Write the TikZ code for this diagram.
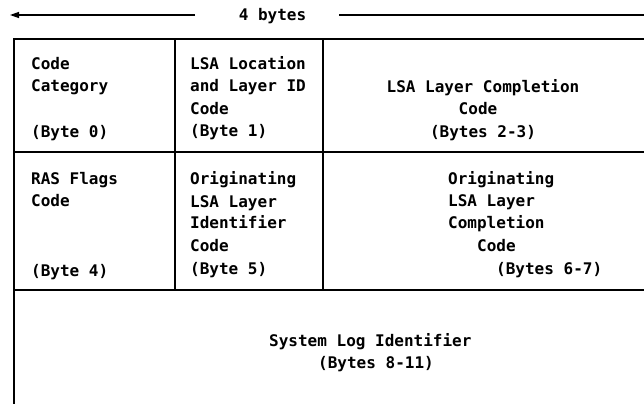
\documentclass[tikz,border=0pt]{standalone}
\usepackage{fontspec}
\newfontfamily\tfont{DejaVu Sans Mono}
\usetikzlibrary{arrows.meta}
\begin{document}
\begin{tikzpicture}[x=1pt,y=-1pt,
  ln/.style={line width=1.3pt, line cap=butt},
  txt/.style={anchor=base west, inner sep=0pt, font={\tfont\bfseries\fontsize{16}{19}\selectfont}},
  ctxt/.style={txt, anchor=base}]
\useasboundingbox (0,0) rectangle (644,404);
% frame and grid
\coordinate (tl) at (14,39);
\coordinate (tr) at (644,39);
\coordinate (bl) at (14,404);
\coordinate (r1l) at (14,152);
\coordinate (r1r) at (644,152);
\coordinate (r2l) at (14,290);
\coordinate (r2r) at (644,290);
\coordinate (c1t) at (175,39);
\coordinate (c1b) at (175,290);
\coordinate (c2t) at (323,39);
\coordinate (c2b) at (323,290);
\draw[ln] (tr) -- (tl) -- (bl);
\draw[ln] (r1l) -- (r1r);
\draw[ln] (r2l) -- (r2r);
\draw[ln] (c1t) -- (c1b);
\draw[ln] (c2t) -- (c2b);
% width arrow
\node[ctxt] (nb) at (272.5,21) {4 bytes};
\coordinate (al) at (10,15);
\coordinate (al2) at (195,15);
\coordinate (ar) at (644,15);
\coordinate (ar2) at (339,15);
\draw[ln, -{Triangle[length=9pt,width=6pt]}] (al2) -- (al);
\draw[ln] (ar2) -- (ar);
% row 1
\node[txt] (a1) at (31,69) {Code};
\node[txt] (a2) at (31,91) {Category};
\node[txt] (a3) at (31,137) {(Byte 0)};
\node[txt] (b1) at (190,69) {LSA Location};
\node[txt] (b2) at (190,91) {and Layer ID};
\node[txt] (b3) at (190,114) {Code};
\node[txt] (b4) at (190,136) {(Byte 1)};
\node[ctxt] (c1) at (483,92) {LSA Layer Completion};
\node[ctxt] (c2) at (478,114) {Code};
\node[ctxt] (c3) at (483,137) {(Bytes 2-3)};
% row 2
\node[txt] (d1) at (31,184) {RAS Flags};
\node[txt] (d2) at (31,206) {Code};
\node[txt] (d3) at (31,276) {(Byte 4)};
\node[txt] (e1) at (190,184) {Originating};
\node[txt] (e2) at (190,207) {LSA Layer};
\node[txt] (e3) at (190,228) {Identifier};
\node[txt] (e4) at (190,251) {Code};
\node[txt] (e5) at (190,274) {(Byte 5)};
\node[txt] (f1) at (448,184) {Originating};
\node[txt] (f2) at (448,206) {LSA Layer};
\node[txt] (f3) at (448,228) {Completion};
\node[txt] (f4) at (477,251) {Code};
\node[txt] (f5) at (496,274) {(Bytes 6-7)};
% row 3
\node[txt] (g1) at (269,346) {System Log Identifier};
\node[txt] (g2) at (318,368) {(Bytes 8-11)};
\end{tikzpicture}
\end{document}
